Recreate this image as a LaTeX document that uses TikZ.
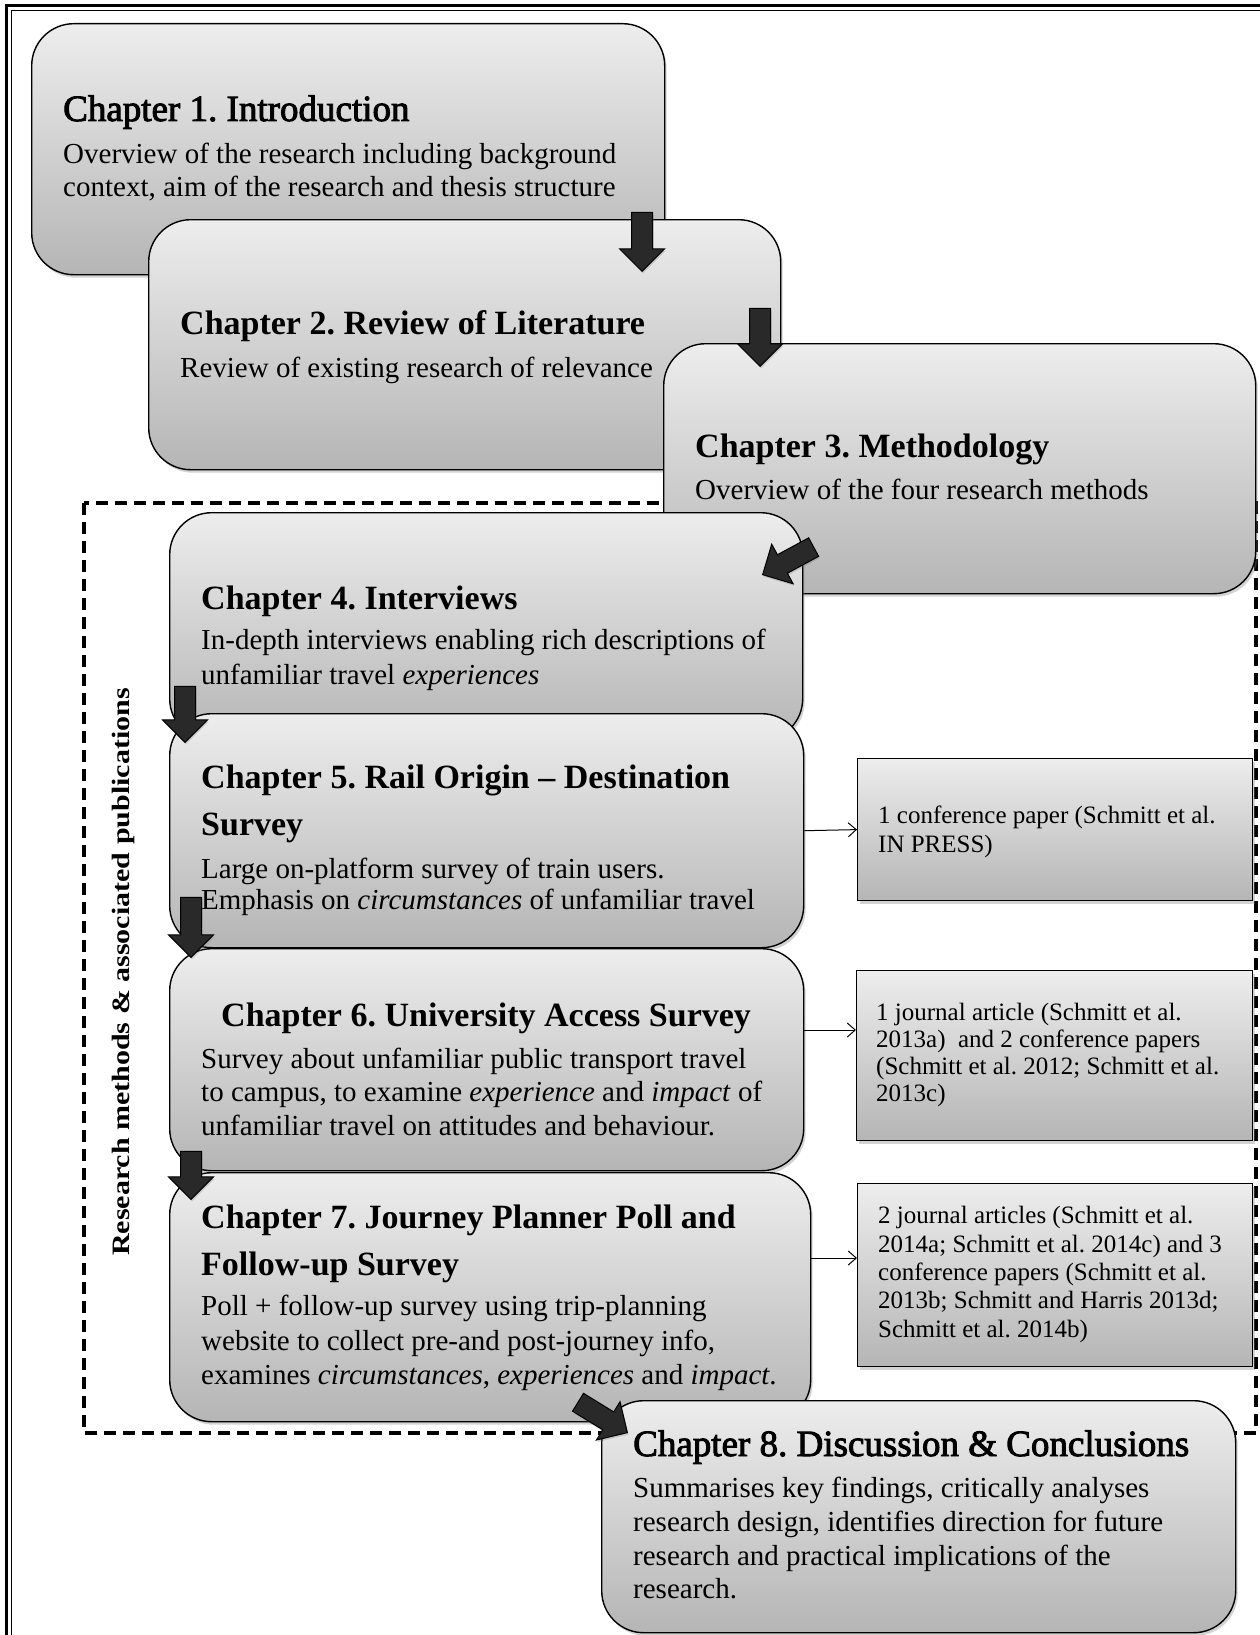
\documentclass[tikz,border=0pt]{standalone}
\usepackage{fontspec}
\setmainfont{Liberation Serif}
\newfontfamily\semifont{Liberation Serif}[FakeBold=2.5]
\usetikzlibrary{shadows,shapes.arrows,arrows.meta}

\definecolor{boxtop}{gray}{0.93}
\definecolor{boxbot}{gray}{0.71}
\definecolor{arrowfill}{gray}{0.16}

\tikzset{
  chapbox/.style={draw=black, line width=1.4pt, rounded corners=42pt,
    top color=boxtop, bottom color=boxbot, inner sep=0pt, anchor=north west,
    drop shadow={shadow xshift=2pt, shadow yshift=-3pt, opacity=0.35}},
  pubbox/.style={draw=black, line width=1.2pt,
    top color=boxtop, bottom color=boxbot, inner sep=0pt, anchor=north west,
    drop shadow={shadow xshift=2pt, shadow yshift=-3pt, opacity=0.35}},
  blockarrow/.style={shape=single arrow, draw=black, line width=1pt,
    fill=arrowfill, inner xsep=0pt, inner ysep=10pt,
    single arrow head extend=12pt, single arrow tip angle=90,
    anchor=tip, drop shadow={shadow xshift=1pt, shadow yshift=-2pt, opacity=0.3}},
  pubarrow/.style={line width=1pt, -{Straight Barb[length=8pt,width=14pt]}},
  regionline/.style={line width=3.2pt, dash pattern=on 12pt off 7pt},
  bigtitle/.style={font=\fontsize{37}{44}\selectfont\semifont},
  ctitle/.style={font=\fontsize{34}{40}\selectfont\bfseries},
  cbody/.style={font=\fontsize{29}{33}\selectfont},
  pubtext/.style={font=\fontsize{25}{28}\selectfont},
}

% one line of text, left end of its baseline at the given point
\newcommand{\tline}[4]{\node[anchor=base west, inner sep=0pt, #1] (#2) at (#3) {#4};}
% chapter box: name, top-left corner, width, height
\newcommand{\chapterbox}[5]{\node[chapbox, minimum width=#4pt, minimum height=#5pt] (#1) at (#2,#3) {};}
\newcommand{\pubsbox}[5]{\node[pubbox, minimum width=#4pt, minimum height=#5pt] (#1) at (#2,#3) {};}

\begin{document}
\frenchspacing
\begin{tikzpicture}[x=1pt, y=-1pt]
\useasboundingbox (0,0) rectangle (1259,1635);

% page border
\draw[line width=3pt] (6,1640) -- (6,6) -- (1264,6);
\draw[line width=1pt] (11,1640) -- (11,11) -- (1264,11);

% region of the research chapters
\draw[regionline] (84,503) rectangle (1256,1433);

% Chapter 1
\chapterbox{B1}{31}{23}{633}{251}
\tline{bigtitle}{t1}{63,121}{Chapter 1. Introduction}
\tline{cbody}{b1a}{63,163}{Overview of the research including background}
\tline{cbody}{b1b}{63,196}{context, aim of the research and thesis structure}

% Chapter 2
\chapterbox{B2}{148}{219}{632}{250}
\tline{ctitle}{t2}{180,334}{Chapter 2. Review of Literature}
\tline{cbody}{b2a}{180,377}{Review of existing research of relevance}
\node[blockarrow, rotate=-90, minimum height=59pt] (a12) at (642,272) {};

% Chapter 3
\chapterbox{B3}{663}{343}{592}{250}
\tline{ctitle}{t3}{695,457}{Chapter 3. Methodology}
\tline{cbody}{b3a}{695,499}{Overview of the four research methods}
\node[blockarrow, rotate=-90, minimum height=58pt] (a23) at (760,367) {};

% Chapter 4
\chapterbox{B4}{169}{512}{633}{228}
\tline{ctitle}{t4}{201,609}{Chapter 4. Interviews}
\tline{cbody}{b4a}{201,649}{In-depth interviews enabling rich descriptions of}
\tline{cbody}{b4b}{201,684}{unfamiliar travel \textit{experiences}}
\node[blockarrow, rotate=208.4, minimum height=58pt] (a34) at (762,575) {};

% Chapter 5
\chapterbox{B5}{169}{713}{634}{234}
\tline{ctitle}{t5a}{201,788}{Chapter 5. Rail Origin – Destination}
\tline{ctitle}{t5b}{201,835}{Survey}
\tline{cbody}{b5a}{201,878}{Large on-platform survey of train users.}
\tline{cbody}{b5b}{201,909}{Emphasis on \textit{circumstances} of unfamiliar travel}
\node[blockarrow, rotate=-90, minimum height=56pt] (a45) at (185,743) {};

% Chapter 6
\chapterbox{B6}{169}{948}{634}{222}
\tline{ctitle}{t6}{221,1026}{Chapter 6. University Access Survey}
\tline{cbody}{b6a}{201,1068}{Survey about unfamiliar public transport travel}
\tline{cbody}{b6b}{201,1101}{to campus, to examine \textit{experience} and \textit{impact} of}
\tline{cbody}{b6c}{201,1135}{unfamiliar travel on attitudes and behaviour.}
\node[blockarrow, rotate=-90, minimum height=60pt] (a56) at (191,958) {};

% Chapter 7
\chapterbox{B7}{169}{1172}{641}{249}
\tline{ctitle}{t7a}{201,1228}{Chapter 7. Journey Planner Poll and}
\tline{ctitle}{t7b}{201,1275}{Follow-up Survey}
\tline{cbody}{b7a}{201,1315}{Poll + follow-up survey using trip-planning}
\tline{cbody}{b7b}{201,1350}{website to collect pre-and post-journey info,}
\tline{cbody}{b7c}{201,1384}{examines \textit{circumstances}, \textit{experiences} and \textit{impact}.}
\node[blockarrow, rotate=-90, minimum height=48pt] (a67) at (191,1200) {};

% Chapter 8
\chapterbox{B8}{601}{1400}{634}{232}
\tline{bigtitle}{t8}{633,1456}{Chapter 8. Discussion \& Conclusions}
\tline{cbody}{b8a}{633,1497}{Summarises key findings, critically analyses}
\tline{cbody}{b8b}{633,1531}{research design, identifies direction for future}
\tline{cbody}{b8c}{633,1565}{research and practical implications of the}
\tline{cbody}{b8d}{633,1598}{research.}
\node[blockarrow, rotate=-31.6, minimum height=58pt] (a78) at (628,1433) {};

% associated publications
\pubsbox{P1}{857}{758}{395}{142}
\tline{pubtext}{p1a}{878,823}{1 conference paper (Schmitt et al.}
\tline{pubtext}{p1b}{878,852}{IN PRESS)}

\pubsbox{P2}{856}{970}{396}{170}
\tline{pubtext}{p2a}{876,1020}{1 journal article (Schmitt et al.}
\tline{pubtext}{p2b}{876,1047}{2013a)\ \ and 2 conference papers}
\tline{pubtext}{p2c}{876,1074}{(Schmitt et al. 2012; Schmitt et al.}
\tline{pubtext}{p2d}{876,1101}{2013c)}

\pubsbox{P3}{857}{1183}{395}{183}
\tline{pubtext}{p3a}{878,1223}{2 journal articles (Schmitt et al.}
\tline{pubtext}{p3b}{878,1252}{2014a; Schmitt et al. 2014c) and 3}
\tline{pubtext}{p3c}{878,1280}{conference papers (Schmitt et al.}
\tline{pubtext}{p3d}{878,1308}{2013b; Schmitt and Harris 2013d;}
\tline{pubtext}{p3e}{878,1337}{Schmitt et al. 2014b)}

\coordinate (l6) at (0,1030);
\coordinate (l7) at (0,1258);
\draw[pubarrow] (B5.east) -- (P1.west);
\draw[pubarrow] (B6.east |- l6) -- (P2.west |- l6);
\draw[pubarrow] (B7.east |- l7) -- (P3.west |- l7);

% side label of the region
\node[rotate=90, inner sep=0pt, font=\fontsize{25}{30}\selectfont\bfseries] (lbl) at (123,972)
  {\scalebox{1.2}[1]{Research methods \& associated publications}};

\end{tikzpicture}
\end{document}
